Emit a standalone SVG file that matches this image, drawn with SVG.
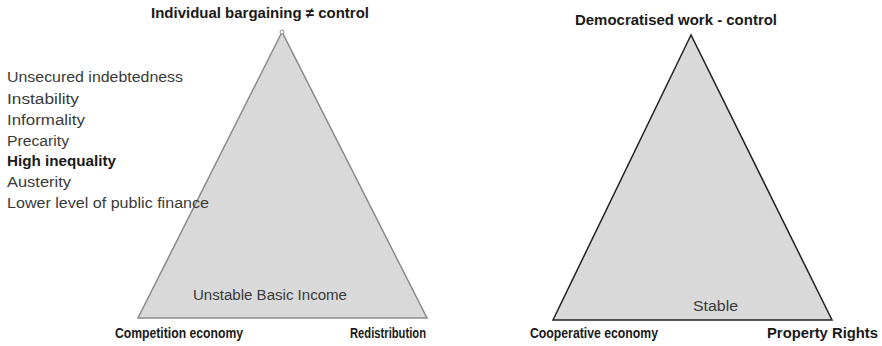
<svg xmlns="http://www.w3.org/2000/svg" width="882" height="346" viewBox="0 0 882 346">
  <style>
    text { font-family: "Liberation Sans", Arial, sans-serif; font-size: 14px; fill: #3a3a3a; }
    .b { font-weight: bold; fill: #1a1a1a; font-size: 15px; }
    .tri { fill: #d9d9d9; stroke-linejoin: miter; }
  </style>
  <rect width="882" height="346" fill="#ffffff"/>

  <!-- Left model: competition economy -->
  <g id="left-triangle">
    <polygon class="tri" points="282,32 138,318 427,318" stroke="#8a8a8a" stroke-width="1.5"/>
    <circle cx="282" cy="32" r="2" fill="#ffffff" stroke="#8a8a8a" stroke-width="1"/>
    <text class="b" x="151" y="18" textLength="218" lengthAdjust="spacingAndGlyphs">Individual bargaining ≠ control</text>
    <text x="193" y="300" textLength="154" lengthAdjust="spacingAndGlyphs">Unstable Basic Income</text>
    <text class="b" x="115" y="338" textLength="128" lengthAdjust="spacingAndGlyphs">Competition economy</text>
    <text class="b" x="350" y="338" textLength="76" lengthAdjust="spacingAndGlyphs">Redistribution</text>
  </g>

  <g id="left-list">
    <text x="7" y="82" textLength="176" lengthAdjust="spacingAndGlyphs">Unsecured indebtedness</text>
    <text x="7" y="104" textLength="72" lengthAdjust="spacingAndGlyphs">Instability</text>
    <text x="7" y="125" textLength="78" lengthAdjust="spacingAndGlyphs">Informality</text>
    <text x="7" y="146" textLength="62" lengthAdjust="spacingAndGlyphs">Precarity</text>
    <text class="b" x="7" y="166" textLength="109" lengthAdjust="spacingAndGlyphs" style="font-size:14px">High inequality</text>
    <text x="7" y="187" textLength="64" lengthAdjust="spacingAndGlyphs">Austerity</text>
    <text x="7" y="208" textLength="202" lengthAdjust="spacingAndGlyphs">Lower level of public finance</text>
  </g>

  <!-- Right model: cooperative economy -->
  <g id="right-triangle">
    <polygon class="tri" points="691,35 553,320 832,320" stroke="#222222" stroke-width="1.5"/>
    <text class="b" x="575" y="25" textLength="202" lengthAdjust="spacingAndGlyphs">Democratised work - control</text>
    <text x="693" y="311" textLength="45" lengthAdjust="spacingAndGlyphs">Stable</text>
    <text class="b" x="530" y="338" textLength="128" lengthAdjust="spacingAndGlyphs">Cooperative economy</text>
    <text class="b" x="767" y="338" textLength="111" lengthAdjust="spacingAndGlyphs">Property Rights</text>
  </g>
</svg>
